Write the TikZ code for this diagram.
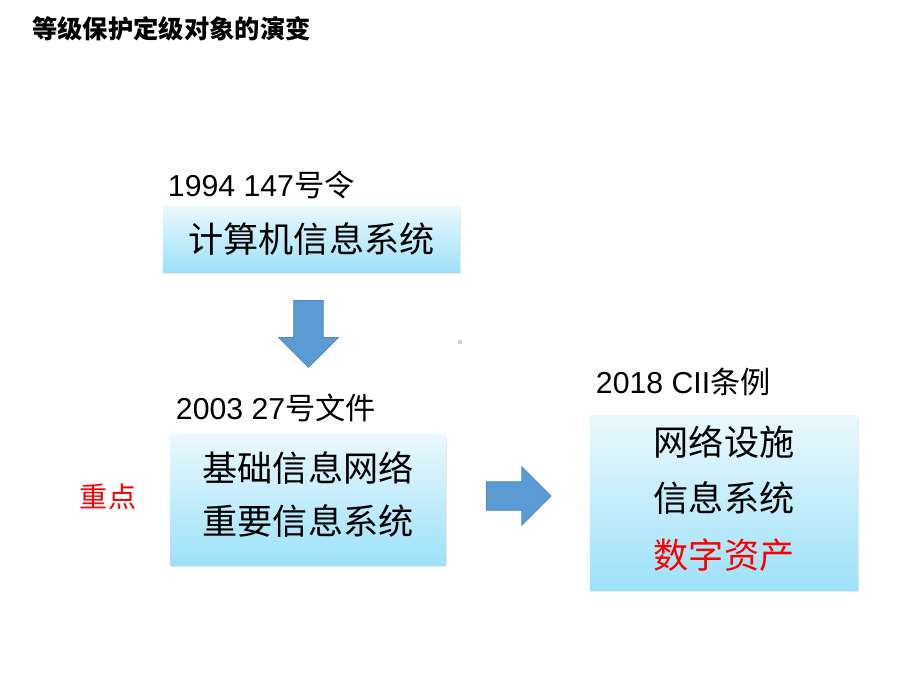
\documentclass[tikz,border=0pt]{standalone}
\usepackage{fontspec}
\setmainfont{Liberation Sans}
\newfontfamily\cjk{Noto Sans CJK SC}
\usepackage{tikz}
\usetikzlibrary{positioning}
\usetikzlibrary{shapes.arrows,shadows}
\definecolor{boxTop}{HTML}{EAF8FD}
\definecolor{boxBottom}{HTML}{9DE1F8}
\definecolor{arrowBlue}{HTML}{5B9BD5}
\definecolor{arrowEdge}{HTML}{4F86C0}

\begin{document}
\begin{tikzpicture}[x=0.025cm,y=-0.025cm,
  levelbox/.style={top color=boxTop, bottom color=boxBottom,
                   draw=none, inner sep=0pt, align=center,
                   drop shadow={opacity=0.18, shadow xshift=0.03cm, shadow yshift=-0.04cm},
                   font=\cjk\fontsize{25}{38}\selectfont},
  yearlabel/.style={anchor=base west, inner sep=0pt, font=\fontsize{21.5}{26}\selectfont},
  blockarrow/.style={single arrow, fill=arrowBlue, draw=arrowEdge, line width=0.5pt,
                     single arrow head extend=0.375cm}
 ]
\useasboundingbox (0,0) rectangle (920,690);

\node[anchor=west, inner sep=0pt, font=\cjk\bfseries\fontsize{18}{22}\selectfont]
     (title) at (32,29) {等级保护定级对象的演变};

% the three boxes
\node[levelbox, minimum width=7.425cm, minimum height=1.625cm]
     (computer) at (311.5,239.5) {计算机信息系统};
\node[levelbox, minimum width=6.9cm, minimum height=3.25cm, text depth=0.35cm]
     (network) at (308,500) {基础信息网络\\重要信息系统};
\node[levelbox, minimum width=6.7cm, minimum height=4.35cm, text depth=0.3cm,
      font=\cjk\fontsize{25}{40}\selectfont]
     (cii) at (724,503) {网络设施\\信息系统\\\textcolor{red}{数字资产}};

% year labels
\node[yearlabel] (order) at ([xshift=0.125cm,yshift=0.25cm]computer.north west)
     {1994 147{\cjk 号令}};
\node[yearlabel] (document) at ([xshift=0.15cm,yshift=0.375cm]network.north west)
     {2003 27{\cjk 号文件}};
\node[yearlabel] (regulation) at ([xshift=0.15cm,yshift=0.55cm]cii.north west)
     {2018 CII{\cjk 条例}};

\node[text=red, inner sep=0pt, font=\cjk\fontsize{20}{24}\selectfont]
     (focus) at (108,497) {重点};

% block arrows
\node[blockarrow, shape border rotate=270, inner sep=0.3625cm,
      minimum width=1.475cm, minimum height=1.675cm]
     (down) at (308.5,326.5) {};
\node[blockarrow, inner sep=0.35cm, minimum width=1.45cm, minimum height=1.625cm]
     (right) at (511.5,496) {};

\node[fill=gray!35, inner sep=0pt, minimum size=0.12cm] (dot) at (460,342) {};
\end{tikzpicture}
\end{document}
